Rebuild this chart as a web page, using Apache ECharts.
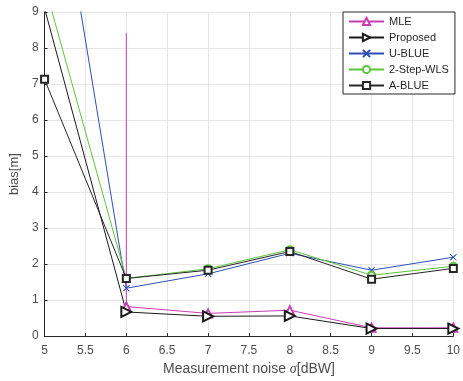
<!DOCTYPE html>
<html>
<head>
<meta charset="utf-8">
<script src="https://cdn.jsdelivr.net/npm/echarts@6/dist/echarts.min.js"></script>
<style>html,body{margin:0;padding:0;background:#fff;}#c{width:463px;height:381px;}</style>
</head>
<body>
<div id="c"></div>
<script>
var noise = [5, 6, 7, 8, 9, 10];
var mleTop = [6, 8.42];
var mle = [null, 0.82, 0.63, 0.72, 0.23, 0.23];
var proposed = [9.1, 0.67, 0.55, 0.56, 0.21, 0.21];
var ublue = [15.1, 1.33, 1.73, 2.30, 1.83, 2.19];
var wls = [9.75, 1.60, 1.87, 2.40, 1.69, 1.94];
var ablue = [7.13, 1.60, 1.83, 2.35, 1.58, 1.88];
var xTicks = [5, 5.5, 6, 6.5, 7, 7.5, 8, 8.5, 9, 9.5, 10];
var yTicks = [0, 1, 2, 3, 4, 5, 6, 7, 8, 9];

function pairs(vals) {
  var out = [];
  for (var i = 0; i < noise.length; i++) {
    if (vals[i] !== null) out.push([noise[i], vals[i]]);
  }
  return out;
}
var mleData = [{value: mleTop, symbol: 'none'}].concat(pairs(mle));

var xShape = 'path://M0,0L10,10L5,5L0,10L10,0L5,5Z';
function line(name, data, color, symbol, size, extra) {
  var s = {
    name: name, type: 'line', data: data, symbol: symbol, symbolSize: size,
    showAllSymbol: true, clip: true,
    lineStyle: {color: color, width: 1},
    itemStyle: {color: color, borderColor: color, borderWidth: 1},
    emphasis: {disabled: true}, animation: false
  };
  if (extra) for (var k in extra) s[k] = extra[k];
  return s;
}

var chart = echarts.init(document.getElementById('c'), null, {renderer: 'canvas'});
chart.setOption({
  animation: false,
  grid: {left: 41, right: 7, top: 12, bottom: 41, containLabel: false},
  xAxis: {
    type: 'value', min: 5, max: 10, interval: 0.5,
    axisLine: {show: true, lineStyle: {color: '#262626', width: 1}},
    axisTick: {show: true, inside: true, length: 3, lineStyle: {color: '#262626'}},
    axisLabel: {color: '#4d4d4d', fontSize: 12, fontFamily: 'Liberation Sans', margin: 9,
      formatter: function (v) { return xTicks.indexOf(v) >= 0 ? String(v) : ''; }},
    splitLine: {show: true, lineStyle: {color: '#e6e6e6', width: 1}},
    name: '{n|Measurement noise }{s|σ}{n|[dBW]}', nameLocation: 'middle', nameGap: 25,
    nameTextStyle: {rich: {
      n: {color: '#4d4d4d', fontSize: 14, fontFamily: 'Liberation Sans'},
      s: {color: '#4d4d4d', fontSize: 14, fontFamily: 'Liberation Serif', fontStyle: 'italic'}
    }}
  },
  yAxis: {
    type: 'value', min: 0, max: 9, interval: 1,
    axisLine: {show: true, lineStyle: {color: '#262626', width: 1}},
    axisTick: {show: true, inside: true, length: 3, lineStyle: {color: '#262626'}},
    axisLabel: {color: '#4d4d4d', fontSize: 12, fontFamily: 'Liberation Sans', margin: 6,
      formatter: function (v) { return yTicks.indexOf(v) >= 0 ? String(v) : ''; }},
    splitLine: {show: true, lineStyle: {color: '#e6e6e6', width: 1}},
    name: 'bias[m]', nameLocation: 'middle', nameGap: 20,
    nameTextStyle: {color: '#4d4d4d', fontSize: 13, fontFamily: 'Liberation Sans'}
  },
  legend: {
    orient: 'vertical', left: 343, top: 12,
    backgroundColor: '#fff', borderColor: '#262626', borderWidth: 1, borderRadius: 0,
    padding: [4, 6, 3, 5], itemGap: 5, itemWidth: 35, itemHeight: 9,
    textStyle: {color: '#262626', fontSize: 11, fontFamily: 'Liberation Sans'},
    data: ['MLE', 'Proposed', 'U-BLUE', '2-Step-WLS', 'A-BLUE']
  },
  series: [
    line('MLE', mleData, '#c83cb4', 'emptyTriangle', 8),
    line('Proposed', pairs(proposed), '#1a1a1a', 'emptyTriangle', 10, {symbolRotate: -90}),
    line('U-BLUE', pairs(ublue), '#2f4fb5', xShape, 6),
    line('2-Step-WLS', pairs(wls), '#5cc43c', 'emptyCircle', 7),
    line('A-BLUE', pairs(ablue), '#262626', 'emptyRect', 7)
  ]
});
</script>
</body>
</html>
